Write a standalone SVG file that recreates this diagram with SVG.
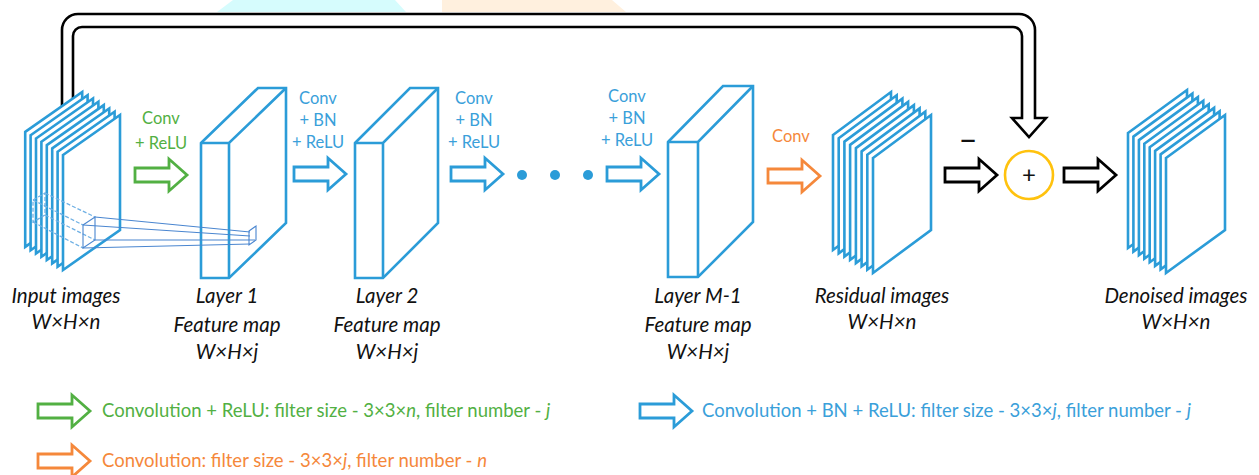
<svg xmlns="http://www.w3.org/2000/svg" width="1259" height="475" viewBox="0 0 1259 475">
<style>
.bl{fill:#fff;stroke:#2B9CD8;stroke-width:2.6;stroke-linejoin:miter}
.ln{fill:none;stroke:#2B9CD8;stroke-width:2.6}
.rf{fill:none;stroke:#4A86D0;stroke-width:1.1}
.rfd{fill:none;stroke:#6FB0E4;stroke-width:1.3;stroke-dasharray:4 2}
.arr{stroke-width:2.8;fill:#fff;stroke-linejoin:miter}
.g{stroke:#52B043}.b{stroke:#2B9CD8}.o{stroke:#F5883B}.k{stroke:#000}
.lab{font-family:Lato,"Liberation Sans",sans-serif;font-size:16.5px;text-anchor:middle}
.cap{font-family:Lato,"Liberation Sans",sans-serif;font-size:20.5px;font-style:italic;text-anchor:middle;fill:#111}
.leg{font-family:Lato,"Liberation Sans",sans-serif;font-size:18.5px}
.tg{fill:#52B043}.tb{fill:#3AA0DA}.to{fill:#F5883B}
</style>
<defs>
<path id="ar" d="M0,-7 L34,-7 L34,-16 L52,0 L34,16 L34,7 L0,7 Z"/>
<polygon id="sIn" points="0,0 57,-40 57,75 0,115"/>
<polygon id="sRe" points="0,0 58,-43 58,72 0,115"/>
<polygon id="sDe" points="0,0 59,-43 59,72 0,115"/>
</defs>
<rect width="1259" height="475" fill="#fff"/>
<g id="watermark">
<polygon points="233,0 395,0 406,12 217,12" fill="#D6FCFD"/>
<polygon points="442,0 612,0 626,12 442,12" fill="#FFF0DE"/>
</g>
<g id="connectors">
<path id="skip" d="M62,130 L62,30 A16,16 0 0 1 78,14 L1019,14 A16,16 0 0 1 1035,30 L1035,118 L1046,118 L1029,137 L1012,118 L1022,118 L1022,36 A9,9 0 0 0 1013,27 L82,27 A9,9 0 0 0 73,36 L73,130 Z" fill="#fff" stroke="#000" stroke-width="2.6" stroke-linejoin="miter"/>
<use href="#ar" x="135" y="175" class="arr g"/>
<use href="#ar" x="294" y="174" class="arr b"/>
<use href="#ar" x="451" y="174" class="arr b"/>
<use href="#ar" x="607" y="174" class="arr b"/>
<use href="#ar" x="768" y="176" class="arr o"/>
<use href="#ar" x="945" y="175" class="arr k"/>
<use href="#ar" x="1064" y="175" class="arr k"/>
</g>
<g id="input-images">
<use href="#sIn" x="25.2" y="131.9" class="bl"/>
<use href="#sIn" x="30.6" y="135.2" class="bl"/>
<use href="#sIn" x="36" y="138.5" class="bl"/>
<use href="#sIn" x="41.4" y="141.8" class="bl"/>
<use href="#sIn" x="46.8" y="145.1" class="bl"/>
<use href="#sIn" x="52.2" y="148.4" class="bl"/>
<use href="#sIn" x="57.6" y="151.7" class="bl"/>
<use href="#sIn" x="63" y="155" class="bl"/>
<g id="patch">
<polygon points="33,200 45,193 45,215 33,222" class="rfd"/>
<path d="M33,200 L83,225 M45,193 L95,217 M33,222 L83,248 M45,215 L95,240" class="rfd"/>
<polygon points="83,225 95,217 95,240 83,248" class="rf" stroke-width="1.4"/>
</g>
<text x="66" y="303" class="cap">Input images</text>
<text x="66" y="329" class="cap">W×H×n</text>
</g>
<g id="layer1">
<polygon points="201,143 258,88 286,88 286,223 229,278 201,278" class="bl"/>
<path d="M201,143 L229,143 L286,88 M229,143 L229,278" class="ln"/>
<text x="227" y="303" class="cap">Layer 1</text>
<text x="227" y="332" class="cap">Feature map</text>
<text x="227" y="359" class="cap">W×H×j</text>
</g>
<g id="receptive-field">
<path d="M95,217 L250,232 M95,240 L255,240 M83,248 L250,244 M83,225 L250,236" class="rf"/>
<polygon points="249,231 256,226 256,240 249,245" class="rf" stroke="#8DA6E0"/>
</g>
<g id="layer2">
<polygon points="355,143 410,88 438,88 438,223 383,278 355,278" class="bl"/>
<path d="M355,143 L383,143 L438,88 M383,143 L383,278" class="ln"/>
<text x="387" y="303" class="cap">Layer 2</text>
<text x="387" y="332" class="cap">Feature map</text>
<text x="387" y="359" class="cap">W×H×j</text>
</g>
<g id="dots">
<circle cx="522" cy="175" r="5" fill="#2B9CD8"/>
<circle cx="555" cy="175" r="5" fill="#2B9CD8"/>
<circle cx="588" cy="175" r="5" fill="#2B9CD8"/>
</g>
<g id="layerM1">
<polygon points="668,142 723,86 753,86 753,222 698,277 668,277" class="bl"/>
<path d="M668,142 L698,142 L753,86 M698,142 L698,277" class="ln"/>
<text x="698" y="303" class="cap">Layer M-1</text>
<text x="698" y="332" class="cap">Feature map</text>
<text x="698" y="359" class="cap">W×H×j</text>
</g>
<g id="residual-images">
<use href="#sRe" x="833" y="135" class="bl"/>
<use href="#sRe" x="838.7" y="138.3" class="bl"/>
<use href="#sRe" x="844.4" y="141.6" class="bl"/>
<use href="#sRe" x="850.1" y="144.9" class="bl"/>
<use href="#sRe" x="855.9" y="148.1" class="bl"/>
<use href="#sRe" x="861.6" y="151.4" class="bl"/>
<use href="#sRe" x="867.3" y="154.7" class="bl"/>
<use href="#sRe" x="873" y="158" class="bl"/>
<text x="882" y="303" class="cap">Residual images</text>
<text x="882" y="329" class="cap">W×H×n</text>
</g>
<g id="sum">
<circle cx="1029" cy="175" r="24" fill="#fff" stroke="#FFC20E" stroke-width="2.6"/>
<text x="1029" y="183" font-family="Lato,'Liberation Sans',sans-serif" font-size="24" text-anchor="middle" fill="#111">+</text>
<text x="968" y="151" font-family="Lato,'Liberation Sans',sans-serif" font-size="33" text-anchor="middle" fill="#111">–</text>
</g>
<g id="denoised-images">
<use href="#sDe" x="1128" y="133" class="bl"/>
<use href="#sDe" x="1133.4" y="136.6" class="bl"/>
<use href="#sDe" x="1138.9" y="140.1" class="bl"/>
<use href="#sDe" x="1144.3" y="143.7" class="bl"/>
<use href="#sDe" x="1149.7" y="147.3" class="bl"/>
<use href="#sDe" x="1155.1" y="150.9" class="bl"/>
<use href="#sDe" x="1160.6" y="154.4" class="bl"/>
<use href="#sDe" x="1166" y="158" class="bl"/>
<text x="1176" y="303" class="cap">Denoised images</text>
<text x="1176" y="329" class="cap">W×H×n</text>
</g>
<g id="op-labels">
<text x="161" y="124" class="lab tg">Conv</text>
<text x="161" y="149" class="lab tg">+ ReLU</text>
<text x="318" y="104" class="lab tb">Conv</text>
<text x="318" y="126" class="lab tb">+ BN</text>
<text x="318" y="148" class="lab tb">+ ReLU</text>
<text x="474" y="104" class="lab tb">Conv</text>
<text x="474" y="126" class="lab tb">+ BN</text>
<text x="474" y="148" class="lab tb">+ ReLU</text>
<text x="627" y="102" class="lab tb">Conv</text>
<text x="627" y="124" class="lab tb">+ BN</text>
<text x="627" y="146" class="lab tb">+ ReLU</text>
<text x="791" y="142" class="lab to">Conv</text>
</g>
<g id="legend">
<use href="#ar" x="38" y="411" class="arr g"/>
<text x="102" y="417" class="leg tg">Convolution + ReLU: filter size - 3×3×<tspan font-style="italic">n</tspan>, filter number - <tspan font-style="italic">j</tspan></text>
<use href="#ar" x="640" y="411" class="arr b"/>
<text x="702" y="417" class="leg tb">Convolution + BN + ReLU: filter size - 3×3×<tspan font-style="italic">j</tspan>, filter number - <tspan font-style="italic">j</tspan></text>
<use href="#ar" x="38" y="461" class="arr o"/>
<text x="102" y="467" class="leg to">Convolution: filter size - 3×3×<tspan font-style="italic">j</tspan>, filter number - <tspan font-style="italic">n</tspan></text>
</g>
</svg>
